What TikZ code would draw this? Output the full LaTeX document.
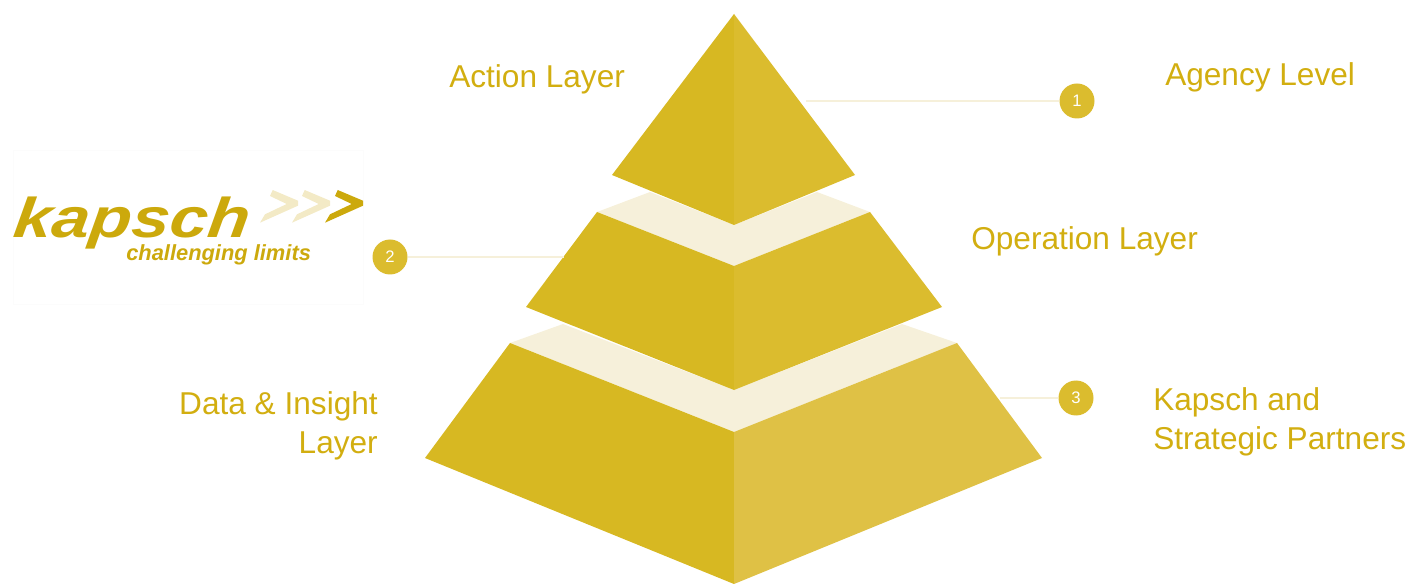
\documentclass[tikz,border=0pt]{standalone}
\usepackage{fontspec}
\setmainfont{Liberation Sans}
\definecolor{goldL}{HTML}{D7B822}
\definecolor{goldR}{HTML}{DBBC2E}
\definecolor{goldB}{HTML}{DFC145}
\definecolor{cream}{HTML}{F6F0DA}
\definecolor{chevc}{HTML}{F3EAC6}
\definecolor{txt}{HTML}{D2AE10}
\definecolor{logo}{HTML}{CCA90C}
\begin{document}
\begin{tikzpicture}[x=0.75pt,y=-0.75pt,
  lbl/.style={text=txt,font=\fontsize{23.7pt}{28pt}\selectfont,inner sep=0pt},
  badge/.style={circle,fill=goldR,minimum size=26.25pt,inner sep=0pt,text=white,font=\fontsize{12.5pt}{14pt}\selectfont},
  lead/.style={draw=cream,line width=1.5pt}]
\useasboundingbox (0,0) rectangle (1420,584);
% logo panel
\draw[draw=white!99!black,line width=0.75pt] (13,151) rectangle (363,305);
% pyramid bands
\fill[cream] (597,212) -- (650,192) -- (734,225) -- (817,192) -- (870,212) -- (734,266) -- cycle;
\fill[cream] (510,343) -- (563,324) -- (734,390) -- (902,324) -- (957,343) -- (734,432) -- cycle;
% top layer
\fill[goldL] (734,14) -- (612,175) -- (734,225) -- cycle;
\fill[goldR] (734,14) -- (855,175) -- (734,225) -- cycle;
% middle layer
\fill[goldL] (597,212) -- (526,307) -- (734,390) -- (734,266) -- cycle;
\fill[goldR] (870,212) -- (942,307) -- (734,390) -- (734,266) -- cycle;
% bottom layer
\fill[goldL] (510,343) -- (425,458) -- (734,584) -- (734,432) -- cycle;
\fill[goldB] (957,343) -- (1042,458) -- (734,584) -- (734,432) -- cycle;
% badges and leaders
\node[badge] (b1) at (1077,101) {1};
\node[badge] (b2) at (390,257) {2};
\node[badge] (b3) at (1076,398) {3};
\coordinate (e1) at (806,101);
\coordinate (e2) at (564,257);
\coordinate (e3) at (1000,398);
\draw[lead] (b1) -- (e1);
\draw[lead] (b2) -- (e2);
\draw[lead] (b3) -- (e3);
% labels
\node[lbl,anchor=base west] (action) at (449,88) {Action Layer};
\node[lbl,anchor=base west] (agency) at (1165,86) {Agency Level};
\node[lbl,anchor=base west] (oper) at (971,250) {Operation Layer};
\node[lbl,anchor=base east] (data1) at (378,414) {Data \& Insight};
\node[lbl,anchor=base east] (data2) at (378,453) {Layer};
\node[lbl,anchor=base west] (kap1) at (1153,410) {Kapsch and};
\node[lbl,anchor=base west] (kap2) at (1153,449) {Strategic Partners};
% logo
\node[anchor=base west,inner sep=0pt,text=logo,font=\fontsize{42pt}{46pt}\selectfont\bfseries\itshape,
  xscale=1.22,xslant=0.1,transform shape] (kword) at (12,238) {kapsch};
\node[anchor=base west,inner sep=0pt,text=logo,font=\fontsize{16.4pt}{19pt}\selectfont\bfseries\itshape] (ktag) at (126,261) {challenging limits};
\foreach \dx/\c in {-65/chevc,-33/chevc,0/logo}{
  \fill[\c,shift={(\dx,0)}] (337.7,190) -- (363,200.7) -- (363,205.7) -- (325,222.7) -- (330,214.3) -- (351.7,204) -- (335,196) -- cycle;
}
\end{tikzpicture}
\end{document}
